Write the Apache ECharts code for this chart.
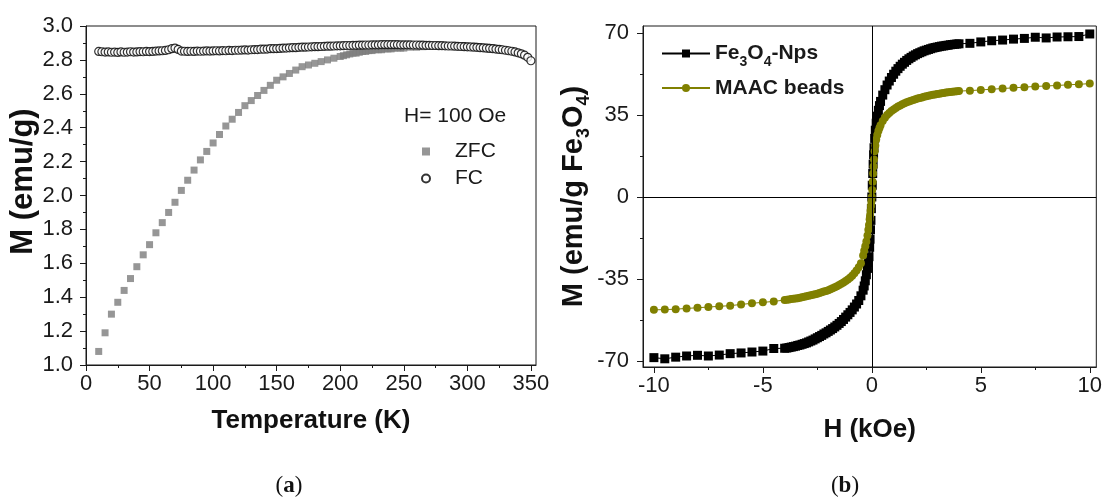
<!DOCTYPE html>
<html><head><meta charset="utf-8">
<script src="https://cdn.jsdelivr.net/npm/echarts@6/dist/echarts.min.js"></script>
<style>html,body{margin:0;padding:0;background:#fff}#c{width:1105px;height:500px}</style>
</head><body><div id="c"></div>
<script>
// ---------- Panel (a): ZFC / FC ----------
const zfcT = [10,15,20,25,30,35,40,45,50,55,60,65,70,75,80,85,90,95,100,105,110,115,120,125,130,135,140,145,150,155,160,165,170,175,180,185,190,195,200,
  202.5,205,207.5,210,212.5,215,217.5,220,222.5,225,227.5,230,232.5,235,237.5,240,242.5,245,247.5,250,
  255,260,265,270,275,280,285,290,295,300,305,310,315,320,325,330,335,340];
const zfcM = [1.08,1.19,1.30,1.37,1.44,1.51,1.58,1.65,1.71,1.78,1.84,1.90,1.96,2.03,2.09,2.15,2.21,2.26,2.31,2.36,2.41,2.45,2.49,2.53,2.56,2.59,2.62,2.65,2.68,2.70,2.72,2.74,2.76,2.77,2.78,2.79,2.80,2.81,2.82,
  2.825,2.83,2.835,2.84,2.84,2.845,2.85,2.85,2.855,2.855,2.86,2.86,2.86,2.865,2.865,2.865,2.87,2.87,2.87,2.87,
  2.875,2.875,2.878,2.88,2.882,2.885,2.885,2.885,2.884,2.883,2.881,2.878,2.875,2.871,2.866,2.86,2.852,2.842];
const fcT = [10,12.5,15,17.5,20,22.5,25,27.5,30,32.5,35,37.5,40,42.5,45,47.5,50,52.5,55,57.5,60,62.5,65,67.5,70,72.5,75,77.5,80,82.5,
  85,87.5,90,92.5,95,97.5,100,102.5,105,107.5,110,112.5,115,117.5,120,122.5,125,127.5,130,132.5,135,137.5,140,142.5,145,147.5,150,152.5,155,157.5,
  160,162.5,165,167.5,170,172.5,175,177.5,180,182.5,185,187.5,190,192.5,195,197.5,200,202.5,205,207.5,210,212.5,215,217.5,220,222.5,225,227.5,230,232.5,
  235,237.5,240,242.5,245,247.5,250,252.5,255,257.5,260,262.5,265,267.5,270,272.5,275,277.5,280,282.5,285,287.5,290,292.5,295,297.5,300,302.5,305,307.5,
  310,312.5,315,317.5,320,322.5,325,327.5,330,332.5,335,337.5,340,342.5,345,347.5,350];
const fcM = [2.850,2.848,2.846,2.847,2.845,2.846,2.844,2.847,2.845,2.846,2.848,2.846,2.847,2.849,2.848,2.850,2.849,2.850,2.852,2.853,2.854,2.856,2.860,2.866,2.870,2.862,2.852,2.851,2.850,2.851,
  2.850,2.852,2.851,2.852,2.853,2.852,2.853,2.854,2.853,2.855,2.854,2.856,2.855,2.857,2.857,2.858,2.859,2.858,2.860,2.861,2.861,2.863,2.863,2.864,2.866,2.866,2.867,2.868,2.869,2.870,
  2.871,2.872,2.872,2.874,2.875,2.875,2.876,2.877,2.878,2.878,2.879,2.880,2.881,2.881,2.882,2.883,2.883,2.884,2.885,2.885,2.886,2.886,2.887,2.887,2.888,2.888,2.889,2.889,2.889,2.890,
  2.890,2.890,2.890,2.890,2.890,2.889,2.889,2.889,2.889,2.888,2.888,2.887,2.887,2.886,2.886,2.885,2.885,2.884,2.884,2.883,2.882,2.882,2.881,2.880,2.879,2.878,2.877,2.876,2.875,2.874,
  2.872,2.871,2.869,2.868,2.866,2.864,2.862,2.860,2.857,2.854,2.851,2.847,2.842,2.836,2.828,2.815,2.795];
const aXLabels = [0,50,100,150,200,250,300,350];
const aXMinor = [25,75,125,175,225,275,325];
const aYLabels = [1.0,1.2,1.4,1.6,1.8,2.0,2.2,2.4,2.6,2.8,3.0];
const aYMinor = [1.1,1.3,1.5,1.7,1.9,2.1,2.3,2.5,2.7,2.9];

// ---------- Panel (b): hysteresis ----------
const hField = [-10,-9.5,-9,-8.5,-8,-7.5,-7,-6.5,-6,-5.5,-5,-4.5,
  -4,-3.9,-3.8,-3.7,-3.6,-3.5,-3.4,-3.3,-3.2,-3.1,-3,-2.9,-2.8,-2.7,-2.6,-2.5,-2.4,-2.3,-2.2,-2.1,-2,-1.9,-1.8,-1.7,-1.6,-1.5,-1.4,-1.3,-1.2,-1.1,-1,-0.9,-0.8,-0.7,-0.6,-0.5,-0.4,
  -0.35,-0.3,-0.25,-0.2,-0.16,-0.13,-0.1,-0.08,-0.06,-0.04,-0.02,
  0,
  0.02,0.04,0.06,0.08,0.1,0.13,0.16,0.2,0.25,0.3,0.35,
  0.4,0.5,0.6,0.7,0.8,0.9,1,1.1,1.2,1.3,1.4,1.5,1.6,1.7,1.8,1.9,2,2.1,2.2,2.3,2.4,2.5,2.6,2.7,2.8,2.9,3,3.1,3.2,3.3,3.4,3.5,3.6,3.7,3.8,3.9,4,
  4.5,5,5.5,6,6.5,7,7.5,8,8.5,9,9.5,10];
const npsM = [-68.6,-69.1,-68.4,-67.9,-67.6,-67.9,-67.5,-66.9,-66.6,-66.2,-65.8,-64.7,
  -64.6,-64.5,-64.3,-64.1,-63.9,-63.7,-63.4,-63.2,-62.9,-62.6,-62.3,-61.9,-61.5,-61.1,-60.6,-60.1,-59.6,-59.1,-58.5,-58.0,-57.4,-56.8,-56.2,-55.5,-54.8,-54.0,-53.2,-52.3,-51.3,-50.3,-49.3,-48.2,-47.0,-45.7,-44.2,-42.2,-39.8,
  -38.0,-35.8,-33.2,-30.5,-28.0,-25.5,-21.5,-18,-14,-10,-5,
  0,
  5,10,14,18,21,25,28.5,31.5,34.5,37,39,
  40.8,43.5,45.8,47.8,49.5,51.0,52.4,53.7,54.8,55.8,56.7,57.5,58.3,59.0,59.6,60.2,60.7,61.2,61.6,62.0,62.4,62.7,63.0,63.3,63.6,63.8,64.0,64.2,64.4,64.5,64.7,64.8,65.0,65.1,65.2,65.3,65.4,
  65.6,66.2,66.7,67.0,67.4,67.7,68.2,67.9,68.3,68.4,68.5,69.6];
const maacM = [-48.2,-48.1,-47.9,-47.6,-47.3,-47.0,-46.7,-46.4,-45.9,-45.4,-45.0,-44.6,
  -44.0,-43.9,-43.8,-43.6,-43.5,-43.3,-43.2,-43.0,-42.8,-42.6,-42.4,-42.2,-42.0,-41.8,-41.5,-41.3,-41.0,-40.7,-40.4,-40.1,-39.8,-39.4,-39.0,-38.6,-38.1,-37.6,-37.1,-36.5,-35.9,-35.2,-34.5,-33.6,-32.6,-31.4,-30.0,-28.3,-25.0,
  -23.0,-21.0,-19.0,-16.5,-14.0,-12.0,-9.5,-7.8,-5.9,-3.9,-2.0,
  0,
  3,6.5,10,13,16,19.5,22,24.5,26.5,28.2,29.5,
  30.6,32.4,33.8,35.0,35.9,36.7,37.4,38.0,38.6,39.1,39.6,40.0,40.4,40.8,41.1,41.4,41.7,42.0,42.3,42.5,42.8,43.0,43.2,43.4,43.6,43.8,44.0,44.1,44.3,44.4,44.6,44.7,44.8,44.9,45.0,45.1,45.2,
  45.4,45.7,46.0,46.3,46.6,46.9,47.2,47.4,47.6,47.9,48.1,48.4];
const bXLabels = [-10,-5,0,5,10];
const bXMinor = [-7.5,-2.5,2.5,7.5];
const bYLabels = [-70,-35,0,35,70];
const bYMinor = [-52.5,-17.5,17.5,52.5];

const FONT = '"Liberation Sans", Arial, sans-serif';
const INK = '#1a1a1a';
const TICK_FS = 22;
const zip = (a, b) => a.map((v, i) => [v, b[i]]);

function mainAxis(gi, min, max, labels, extra) {
  return Object.assign({
    gridIndex: gi, type: 'value', min: min, max: max,
    axisLine: { onZero: false, lineStyle: { color: INK, width: 1 } },
    axisTick: { customValues: labels, length: 6, lineStyle: { color: INK, width: 1 } },
    splitLine: { show: false }
  }, extra);
}
function minorAxis(gi, min, max, minor, pos) {
  return {
    gridIndex: gi, type: 'value', min: min, max: max, position: pos,
    axisLine: { show: false, onZero: false },
    axisTick: { customValues: minor, length: 3, lineStyle: { color: INK, width: 1 } },
    axisLabel: { show: false }, splitLine: { show: false }
  };
}
const nameStyle = (fs) => ({ fontFamily: FONT, fontWeight: 'bold', fontSize: fs, color: '#111' });
const tickLabel = (vals, margin, fmt) => ({ customValues: vals, color: INK, fontFamily: FONT, fontSize: TICK_FS, margin: margin, formatter: fmt });

const chart = echarts.init(document.getElementById('c'));
chart.setOption({
  animation: false,
  grid: [
    { left: 86, top: 26, width: 450, height: 339, show: true, borderColor: INK, borderWidth: 1 },
    { left: 643, top: 26, width: 457, height: 341, show: true, borderColor: INK, borderWidth: 1 }
  ],
  xAxis: [
    mainAxis(0, 0, 354, aXLabels, { position: 'bottom', name: 'Temperature (K)', nameLocation: 'middle', nameGap: 43, nameTextStyle: nameStyle(26),
      axisLabel: tickLabel(aXLabels, 8) }),
    minorAxis(0, 0, 354, aXMinor, 'bottom'),
    mainAxis(1, -10.5, 10.3, bXLabels, { position: 'bottom', name: 'H (kOe)', nameLocation: 'middle', nameGap: 50, nameTextStyle: nameStyle(26),
      axisLabel: tickLabel(bXLabels, 8) }),
    minorAxis(1, -10.5, 10.3, bXMinor, 'bottom')
  ],
  yAxis: [
    mainAxis(0, 1, 3, aYLabels, { position: 'left', name: 'M (emu/g)', nameLocation: 'middle', nameGap: 42,
      nameTextStyle: Object.assign(nameStyle(31), { padding: [0, 0, 0, 28] }),
      axisLabel: tickLabel(aYLabels, 13, v => v.toFixed(1)) }),
    minorAxis(0, 1, 3, aYMinor, 'left'),
    mainAxis(1, -72.6, 73, bYLabels, { position: 'left', name: 'M (emu/g Fe{s|3}O{s|4})', nameLocation: 'middle', nameGap: 50,
      nameTextStyle: Object.assign(nameStyle(29), { rich: { s: { fontFamily: FONT, fontWeight: 'bold', fontSize: 18, color: '#111', verticalAlign: 'bottom', lineHeight: 16, padding: [0, 0, -5, 0] } } }),
      axisLabel: tickLabel(bYLabels, 14) }),
    minorAxis(1, -72.6, 73, bYMinor, 'left')
  ],
  legend: [
    { orient: 'vertical', left: 416, top: 136, itemWidth: 8, itemHeight: 8, itemGap: 6, selectedMode: false,
      textStyle: { fontFamily: FONT, fontSize: 21, color: INK, padding: [0, 0, 0, 20] }, data: ['ZFC', 'FC'] },
    { orient: 'vertical', left: 656, top: 38, itemWidth: 48, itemHeight: 10, itemGap: 8, selectedMode: false,
      data: ['Fe3O4-Nps', 'MAAC beads'],
      formatter: n => n === 'Fe3O4-Nps' ? '{b|Fe}{s|3}{b|O}{s|4}{b|-Nps}' : '{b|MAAC beads}',
      textStyle: { fontFamily: FONT, fontSize: 21, fontWeight: 'bold', color: INK,
        rich: { b: { fontFamily: FONT, fontSize: 21, fontWeight: 'bold', color: INK, lineHeight: 24 },
                s: { fontFamily: FONT, fontSize: 14, fontWeight: 'bold', color: INK, verticalAlign: 'bottom', lineHeight: 14, padding: [0, 0, -4, 0] } } } }
  ],
  graphic: [
    { type: 'text', left: 404, top: 106, style: { text: 'H= 100 Oe', font: '21px "Liberation Sans", Arial, sans-serif', fill: INK } },
    { type: 'text', x: 289, y: 486, style: { text: '{p|(}{a|a}{p|)}', textAlign: 'center', textVerticalAlign: 'middle',
        rich: { p: { fontFamily: '"Liberation Serif", serif', fontSize: 23, fill: '#111' }, a: { fontFamily: '"Liberation Serif", serif', fontSize: 23, fontWeight: 'bold', fill: '#111' } } } },
    { type: 'text', x: 845, y: 486, style: { text: '{p|(}{a|b}{p|)}', textAlign: 'center', textVerticalAlign: 'middle',
        rich: { p: { fontFamily: '"Liberation Serif", serif', fontSize: 23, fill: '#111' }, a: { fontFamily: '"Liberation Serif", serif', fontSize: 23, fontWeight: 'bold', fill: '#111' } } } }
  ],
  series: [
    { name: 'ZFC', type: 'scatter', xAxisIndex: 0, yAxisIndex: 0, symbol: 'rect', symbolSize: 7,
      itemStyle: { color: '#7c7c7c' }, data: zip(zfcT, zfcM) },
    { name: 'FC', type: 'scatter', xAxisIndex: 0, yAxisIndex: 0, symbol: 'circle', symbolSize: 8,
      itemStyle: { color: '#ffffff', borderColor: '#000', borderWidth: 1.2 }, data: zip(fcT, fcM) },
    { name: 'Fe3O4-Nps', type: 'line', xAxisIndex: 2, yAxisIndex: 2, symbol: 'rect', symbolSize: 9, showAllSymbol: true,
      itemStyle: { color: '#000' }, lineStyle: { color: '#000', width: 1 }, data: zip(hField, npsM),
      markLine: { silent: true, symbol: ['none', 'none'], label: { show: false }, animation: false,
        lineStyle: { color: '#000', width: 1, type: 'solid' }, data: [{ xAxis: 0 }, { yAxis: 0 }] } },
    { name: 'MAAC beads', type: 'line', xAxisIndex: 2, yAxisIndex: 2, symbol: 'circle', symbolSize: 8, showAllSymbol: true,
      itemStyle: { color: '#808000' }, lineStyle: { color: '#808000', width: 1 }, data: zip(hField, maacM) }
  ]
});
</script>
</body></html>
